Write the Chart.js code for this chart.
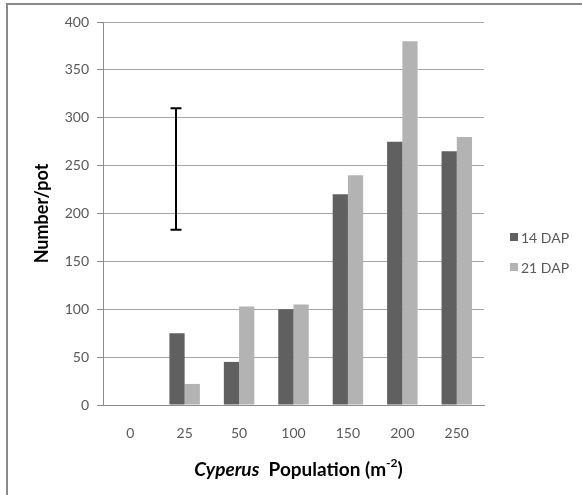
<!DOCTYPE html>
<html>
<head>
<meta charset="utf-8">
<script src="https://cdn.jsdelivr.net/npm/chart.js@4.4.1/dist/chart.umd.min.js"></script>
<style>
  html, body { margin: 0; padding: 0; background: #fff; }
  #wrap { width: 582px; height: 495px; position: relative; }
</style>
</head>
<body>
<div id="wrap"><canvas id="c" width="582" height="495"></canvas></div>
<script>
// Cyperus population density (plants per m²)
const categories = ['0', '25', '50', '100', '150', '200', '250'];
// Counts per pot at 14 and 21 days after planting
const dap14 = [0, 75, 45, 100, 220, 275, 265];
const dap21 = [0, 22, 103, 105, 240, 380, 280];
const seriesLabels = ['14 DAP', '21 DAP'];
// LSD bar (low, high)
const lsdRange = [183, 310];
// Value axis
const yMin = 0, yMax = 400, yStep = 50;

const FONT = 'Lato, "Liberation Sans", sans-serif';
const TEXT = '#595959';

// Frame lines along the top and left edge
const framePlugin = {
  id: 'frame',
  beforeDraw(chart) {
    const ctx = chart.ctx;
    ctx.save();
    ctx.strokeStyle = '#8a8a8a';
    ctx.lineWidth = 2;
    ctx.beginPath();
    ctx.moveTo(7, 495); ctx.lineTo(7, 4); ctx.lineTo(582, 4);
    ctx.stroke();
    ctx.restore();
  }
};

// LSD bar drawn over the 14 DAP bar of the second group
const lsdPlugin = {
  id: 'lsd',
  afterDatasetsDraw(chart) {
    const ctx = chart.ctx;
    const y = chart.scales.y;
    const bar = chart.getDatasetMeta(0).data[1];
    const x = Math.round(bar.x) - 1;
    const yTop = y.getPixelForValue(lsdRange[1]);
    const yBot = y.getPixelForValue(lsdRange[0]);
    ctx.save();
    ctx.strokeStyle = '#000';
    ctx.lineWidth = 2;
    ctx.beginPath();
    ctx.moveTo(x, yTop); ctx.lineTo(x, yBot);
    ctx.moveTo(x - 5.5, yTop); ctx.lineTo(x + 5.5, yTop);
    ctx.moveTo(x - 5.5, yBot); ctx.lineTo(x + 5.5, yBot);
    ctx.stroke();
    ctx.restore();
  }
};

// Legend on the right, built from the datasets
const sideLegendPlugin = {
  id: 'sideLegend',
  afterDraw(chart) {
    const ctx = chart.ctx;
    ctx.save();
    ctx.font = '14px ' + FONT;
    ctx.textBaseline = 'middle';
    ctx.textAlign = 'left';
    chart.data.datasets.forEach((ds, i) => {
      const cy = 237 + i * 30;
      ctx.fillStyle = ds.backgroundColor;
      ctx.fillRect(510, cy - 4, 8, 8);
      ctx.fillStyle = TEXT;
      ctx.fillText(ds.label, 521, cy + 1);
    });
    ctx.restore();
  }
};

// X axis title with italic genus name and superscript unit
const xTitlePlugin = {
  id: 'xTitle',
  afterDraw(chart) {
    const ctx = chart.ctx;
    const parts = [
      { t: 'Cyperus', f: 'italic bold 19px ' + FONT, dy: 0 },
      { t: '  Population (m', f: 'bold 19px ' + FONT, dy: 0 },
      { t: '-2', f: 'bold 12px ' + FONT, dy: -7 },
      { t: ')', f: 'bold 19px ' + FONT, dy: 0 }
    ];
    ctx.save();
    ctx.textBaseline = 'middle';
    ctx.textAlign = 'left';
    let total = 0;
    parts.forEach(p => { ctx.font = p.f; p.w = ctx.measureText(p.t).width; total += p.w; });
    const area = chart.chartArea;
    let x = (area.left + area.right) / 2 - total / 2 + 5;
    const y = 470;
    ctx.fillStyle = '#000';
    parts.forEach(p => { ctx.font = p.f; ctx.fillText(p.t, x, y + p.dy); x += p.w; });
    ctx.restore();
  }
};

new Chart(document.getElementById('c'), {
  type: 'bar',
  data: {
    labels: categories,
    datasets: [
      { label: seriesLabels[0], data: dap14, backgroundColor: '#606060' },
      { label: seriesLabels[1], data: dap21, backgroundColor: '#b3b3b3' }
    ]
  },
  options: {
    responsive: false,
    animation: false,
    layout: { padding: { top: 22, right: 98, bottom: 0, left: 0 } },
    datasets: { bar: { categoryPercentage: 0.56, barPercentage: 1.0 } },
    plugins: { legend: { display: false }, tooltip: { enabled: false } },
    scales: {
      x: {
        grid: { display: false, drawTicks: false },
        border: { display: true, color: '#8c8c8c', width: 1 },
        ticks: { color: TEXT, font: { family: FONT, size: 14 }, padding: 20 },
        afterFit(scale) { scale.height = 90; }
      },
      y: {
        min: yMin, max: yMax,
        ticks: { stepSize: yStep, color: TEXT, font: { family: FONT, size: 14 }, padding: 8 },
        grid: { color: '#a6a6a6', tickColor: '#8c8c8c', tickLength: 6, drawTicks: true },
        border: { display: true, color: '#8c8c8c', width: 1 },
        title: {
          display: true, text: 'Number/pot', color: '#000',
          font: { family: FONT, size: 18, weight: 'bold' },
          padding: { top: 31, bottom: 0 }
        },
        afterFit(scale) { scale.width = 103; }
      }
    }
  },
  plugins: [framePlugin, lsdPlugin, sideLegendPlugin, xTitlePlugin]
});
</script>
</body>
</html>
